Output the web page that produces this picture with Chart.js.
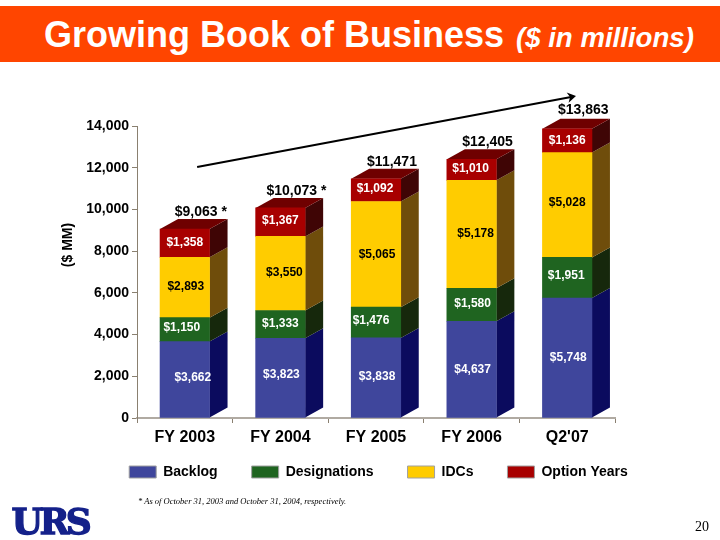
<!DOCTYPE html>
<html>
<head>
<meta charset="utf-8">
<script src="https://cdn.jsdelivr.net/npm/chart.js@4"></script>
<style>
html,body{margin:0;padding:0;background:#fff;overflow:hidden}
#wrap{position:relative;width:720px;height:540px;font-family:"Liberation Sans",Arial,sans-serif}
#c{position:absolute;left:0;top:0}
#banner{position:absolute;left:0;top:6px;width:720px;height:56px;background:#FF4500;color:#fff;white-space:nowrap}
#banner .a{position:absolute;left:44px;top:7px;font-weight:bold;font-size:36px;line-height:44px}
#banner .b{position:absolute;left:516px;top:12px;font-weight:bold;font-style:italic;font-size:27.6px;line-height:40px}
#note{position:absolute;left:138px;top:496px;font:italic 8.5px "Liberation Serif",serif;color:#000;white-space:nowrap}
#logo{position:absolute;left:11.5px;top:499px;font:bold 36px/44px "DejaVu Serif",serif;color:#14218A;letter-spacing:-3.5px;white-space:nowrap;-webkit-text-stroke:1.3px #14218A}
#page{position:absolute;left:695px;top:519px;font:14px/16px "Liberation Serif",serif;color:#000}
</style>
</head>
<body>
<div id="wrap">
<canvas id="c" width="720" height="540"></canvas>
<div id="banner"><span class="a">Growing Book of Business</span><span class="b">($ in millions)</span></div>
<div id="note">* As of October 31, 2003 and October 31, 2004, respectively.</div>
<div id="logo">URS</div>
<div id="page">20</div>
</div>
<script>
const categories = ['FY 2003','FY 2004','FY 2005','FY 2006',"Q2'07"];
const backlog = [3662,3823,3838,4637,5748];
const designations = [1150,1333,1476,1580,1951];
const idcs = [2893,3550,5065,5178,5028];
const optionYears = [1358,1367,1092,1010,1136];
const totals = [9063,10073,11471,12405,13863];
const totalMarks = [' *',' *','','',''];
const yTicks = [0,2000,4000,6000,8000,10000,12000,14000];
const trendIndex = [0.129,4.092];
const trendValue = [12034,15438];

// label nudges in pixels, per series then per bar
const labelDx = [[8,1,1,1,1],[-3,0,-5,1,-1],[1,4,1,4,0],[0,0,-1,-1,0]];
const labelDy = [[-2,-3,-1,0,0],[-2,-1,-2,-1,-2],[-1,-1,0,-1,-2],[0,-1,-1,-1,0]];
const totalDx = [16,16,16,16,16];
const totalDy = [-17,-17,-17,-17,-19];

const fronts = ['#3F469C','#1F6420','#FFCC00','#A80000'];
const sides = ['#0B0B5E','#16280C','#6F4D0B','#3F0505'];
const capColor = '#6F0000';
const labelColors = ['#fff','#fff','#000','#fff'];
const axisColor = '#8A8070';
const baseColor = '#B0AAA2';
const depthX = 18, depthY = 10;

const fmt = v => '$' + v.toLocaleString('en-US');

const bars3d = {
  id:'bars3d',
  afterLayout(chart){
    const lg = chart.legend;
    const h = lg.bottom - lg.top;
    lg.top = 431; lg.bottom = lg.top + h;
    const w = lg.right - lg.left;
    lg.left = 71; lg.right = lg.left + w;
  },
  beforeDatasetsDraw(chart){
    const ctx = chart.ctx;
    chart.data.datasets.forEach((ds,i)=>{
      chart.getDatasetMeta(i).data.forEach(b=>{
        const r = b.x + b.width/2;
        ctx.fillStyle = sides[i];
        ctx.beginPath();
        ctx.moveTo(r,b.y); ctx.lineTo(r+depthX,b.y-depthY);
        ctx.lineTo(r+depthX,b.base-depthY); ctx.lineTo(r,b.base);
        ctx.closePath(); ctx.fill();
        if(i===chart.data.datasets.length-1){
          const l = b.x - b.width/2;
          ctx.fillStyle = capColor;
          ctx.beginPath();
          ctx.moveTo(l,b.y); ctx.lineTo(l+depthX,b.y-depthY);
          ctx.lineTo(r+depthX,b.y-depthY); ctx.lineTo(r,b.y);
          ctx.closePath(); ctx.fill();
        }
      });
    });
  },
  afterDatasetsDraw(chart){
    const ctx = chart.ctx, sx = chart.scales.x, sy = chart.scales.y;
    ctx.save();
    ctx.textAlign='center'; ctx.textBaseline='middle';
    ctx.font='bold 12px "Liberation Sans"';
    chart.data.datasets.forEach((ds,i)=>{
      chart.getDatasetMeta(i).data.forEach((b,j)=>{
        ctx.fillStyle = labelColors[i];
        ctx.fillText(fmt(ds.data[j]), b.x+labelDx[i][j], (b.y+b.base)/2+labelDy[i][j]);
      });
    });
    ctx.fillStyle='#000';
    ctx.font='bold 14px "Liberation Sans"';
    totals.forEach((t,j)=>{
      ctx.fillText(fmt(t)+totalMarks[j], sx.getPixelForValue(j)+totalDx[j], sy.getPixelForValue(t)+totalDy[j]);
    });
    // y axis caption
    ctx.save();
    ctx.translate(68,245); ctx.rotate(-Math.PI/2);
    ctx.font='bold 14px "Liberation Sans"';
    ctx.fillText('($ MM)',0,0);
    ctx.restore();
    // trend arrow
    const x0=sx.getPixelForValue(trendIndex[0]), y0=sy.getPixelForValue(trendValue[0]);
    const x1=sx.getPixelForValue(trendIndex[1]), y1=sy.getPixelForValue(trendValue[1]);
    const a=Math.atan2(y1-y0,x1-x0);
    ctx.strokeStyle='#000'; ctx.fillStyle='#000'; ctx.lineWidth=2;
    ctx.beginPath(); ctx.moveTo(x0,y0); ctx.lineTo(x1-5*Math.cos(a),y1-5*Math.sin(a)); ctx.stroke();
    ctx.beginPath();
    ctx.moveTo(x1,y1);
    ctx.lineTo(x1-10*Math.cos(a-.55),y1-10*Math.sin(a-.55));
    ctx.lineTo(x1-6*Math.cos(a),y1-6*Math.sin(a));
    ctx.lineTo(x1-10*Math.cos(a+.55),y1-10*Math.sin(a+.55));
    ctx.closePath(); ctx.fill();
    ctx.restore();
  }
};

new Chart(document.getElementById('c'),{
  type:'bar',
  data:{
    labels:categories,
    datasets:[
      {label:'Backlog',data:backlog,backgroundColor:fronts[0]},
      {label:'Designations',data:designations,backgroundColor:fronts[1]},
      {label:'IDCs',data:idcs,backgroundColor:fronts[2]},
      {label:'Option Years',data:optionYears,backgroundColor:fronts[3]}
    ]
  },
  plugins:[bars3d],
  options:{
    responsive:false,
    animation:false,
    layout:{padding:{left:0,top:126,right:105,bottom:0}},
    datasets:{bar:{barThickness:49.5,borderWidth:0}},
    plugins:{
      title:{display:false},
      tooltip:{enabled:false},
      legend:{
        display:true,position:'bottom',align:'center',
        labels:{
          boxWidth:27,boxHeight:12,padding:34,color:'#000',
          font:{family:'"Liberation Sans"',size:14,weight:'bold'},
          generateLabels(chart){
            return chart.data.datasets.map((d,i)=>({
              text:d.label,fillStyle:d.backgroundColor,strokeStyle:'#A0A0A0',lineWidth:1,datasetIndex:i,fontColor:'#000'
            }));
          }
        }
      }
    },
    scales:{
      x:{
        stacked:true,
        afterFit(s){s.height=64;},
        border:{color:baseColor,width:2},
        grid:{display:true,drawOnChartArea:false,drawTicks:true,tickLength:5,color:axisColor},
        ticks:{color:'#000',padding:5,maxRotation:0,font:{family:'"Liberation Sans"',size:16,weight:'bold'}}
      },
      y:{
        stacked:true,min:0,max:14000,
        afterFit(s){s.width=137;},
        afterBuildTicks(s){s.ticks=yTicks.map(v=>({value:v}));},
        border:{color:axisColor,width:1},
        grid:{display:true,drawOnChartArea:false,drawTicks:true,tickLength:5,color:axisColor},
        ticks:{color:'#000',padding:3,font:{family:'"Liberation Sans"',size:14,weight:'bold'},
          callback:v=>v.toLocaleString('en-US')}
      }
    }
  }
});
</script>
</body>
</html>
